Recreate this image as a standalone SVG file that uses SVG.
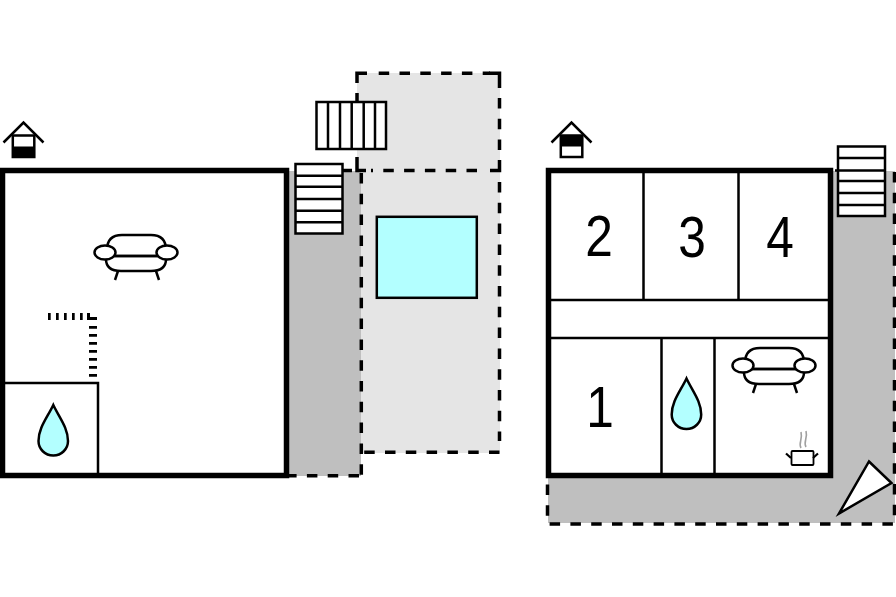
<svg xmlns="http://www.w3.org/2000/svg" width="896" height="597" viewBox="0 0 896 597">
<style>
.wall{fill:none;stroke:#000;stroke-width:5.500}
.in{fill:none;stroke:#000;stroke-width:2.500}
.dash{fill:none;stroke:#000;stroke-width:3.500;stroke-dasharray:10.500 10.300}
.solid{fill:none;stroke:#000;stroke-width:3.500}
.thin{fill:none;stroke:#000;stroke-width:2.500}
.st{fill:#fff;stroke:#000;stroke-width:2.500}
.drop{fill:#b3ffff;stroke:#000;stroke-width:2.500}
.n{font-family:"Liberation Sans",Arial,sans-serif;font-size:57px;fill:#000;text-anchor:middle}
</style>
<defs>
<g id="sofa" fill="#fff" stroke="#000" stroke-width="2.500">
<path d="M107 250q0-15 15-15h29q15 0 15 15v8h-59z"/>
<path d="M106 256v3q0 12 15 12h30q15 0 15-12v-3z"/>
<path d="M114 256h44" fill="none"/>
<ellipse cx="105" cy="252.500" rx="10.500" ry="7"/>
<ellipse cx="167" cy="252.500" rx="10.500" ry="7"/>
<path d="M118 271l-3 9M156 271l3 9" fill="none"/>
</g>
<path id="dropshape" d="M53.300 405C47 418 38.500 428 38.500 441C38.500 449 45 455.500 53.300 455.500C61.500 455.500 68 449 68 441C68 428 59.500 418 53.300 405z"/>
</defs>
<rect id="bg" width="896" height="597" fill="#fff"/>
<g id="terrace-left">
<rect x="289" y="171" width="72" height="305" fill="#bfbfbf"/>
<rect x="357" y="73" width="143" height="98" fill="#e5e5e5"/>
<rect x="361" y="170" width="139" height="283" fill="#e5e5e5"/>
</g>
<g id="terrace-right">
<path d="M833 171H895V523H548V477H833z" fill="#bfbfbf"/>
</g>
<g id="connectors">
<path class="solid" d="M357 83V73.300H367"/>
<path class="dash" d="M378.700 73.300H490"/>
<path class="solid" d="M489 73.300H499.500V88"/>
<path class="dash" d="M499.500 98V160"/>
<path class="solid" d="M499.500 160V170.500H490"/>
<path class="dash" d="M477 170.500H371" stroke-dashoffset="0"/>
<path class="solid" d="M357 93V101M357 157V170.500H366"/>
<path class="solid" d="M342 170.500H352" stroke-width="2"/>
<path class="dash" d="M499.500 182V441"/>
<path class="dash" d="M499.500 452.300H363.300" stroke-dasharray="10.300 10.700" stroke-dashoffset="0"/>
<path class="dash" d="M361.300 173V476"/>
<path class="dash" d="M359 475.700H289" />
<path class="dash" d="M894.500 172V524H547.500V478"/>
</g>
<g id="pool"><rect x="376.800" y="216.800" width="100" height="81" fill="#b3ffff" stroke="#000" stroke-width="2.500"/></g>
<g id="stairs-top">
<rect class="st" x="316.500" y="102" width="69.500" height="47"/>
<path class="thin" d="M328 102v47M340 102v47M351.700 102v47M363.700 102v47M375 102v47"/>
</g>
<g id="stairs-left">
<rect class="st" x="295.500" y="164" width="47" height="69.500"/>
<path class="thin" d="M295.500 175.700h47M295.500 186.800h47M295.500 199h47M295.500 210.700h47M295.500 222.300h47"/>
</g>
<g id="house-left">
<rect x="2.500" y="170.500" width="284" height="305" class="wall"/>
<path class="in" d="M5 383H98V475"/>
<path d="M48 316.500H84" fill="none" stroke="#000" stroke-width="7" stroke-dasharray="2.700 5.300"/>
<path d="M88.500 313V318.500H97" fill="none" stroke="#000" stroke-width="3"/>
<path d="M93 326V383" fill="none" stroke="#000" stroke-width="8" stroke-dasharray="2.700 5.300"/>
<use href="#sofa"/>
<use href="#dropshape" class="drop"/>
</g>
<g id="entrance-left">
<path d="M3.500 142.500L23.500 122.500L43.500 142.500" class="thin"/>
<rect x="12.800" y="135.500" width="21.500" height="21.500" fill="#fff" stroke="#000" stroke-width="2.500"/>
<rect x="12" y="146.500" width="23" height="11.500"/>
</g>
<g id="house-right">
<rect x="548.500" y="170.500" width="282" height="305" class="wall"/>
<path class="in" d="M643.500 171V300M738.500 171V300M549 300H830M549 338H830M661.500 338V475M714.500 338V475"/>
<text class="n" transform="translate(599 256) scale(.87 1)">2</text>
<text class="n" transform="translate(692 257) scale(.87 1)">3</text>
<text class="n" transform="translate(780 257) scale(.87 1)">4</text>
<text class="n" transform="translate(600 427) scale(.87 1)">1</text>
<use href="#sofa" x="638" y="113"/>
<use href="#dropshape" class="drop" x="633.200" y="-26.500"/>
<g id="pot">
<rect x="791.500" y="451" width="22" height="14" fill="#fff" stroke="#000" stroke-width="1.800" rx="1"/>
<path d="M791 458L786 453.500M813 458L818 453.500" stroke="#000" stroke-width="2.200"/>
<path d="M801 448c-3-5 2-8 0-16M806 447c-3-5 2-9 0-16" fill="none" stroke="#a0a0a0" stroke-width="1.600"/>
</g>
</g>
<g id="entrance-right">
<path d="M551.500 142.500L571.500 122.500L591.500 142.500" class="thin"/>
<rect x="560.800" y="135.500" width="21.500" height="21.500" fill="#fff" stroke="#000" stroke-width="2.500"/>
<rect x="560" y="135" width="23" height="11.500"/>
</g>
<g id="stairs-right">
<rect class="st" x="838" y="146.500" width="47" height="69.500"/>
<path class="thin" d="M838 158h47M835 170.500h50M838 181h47M838 193h47M838 205h47"/>
</g>
<g id="compass"><path d="M869 461.500L891.500 483L839 513.500z" fill="#fff" stroke="#000" stroke-width="2.500"/></g>
</svg>
